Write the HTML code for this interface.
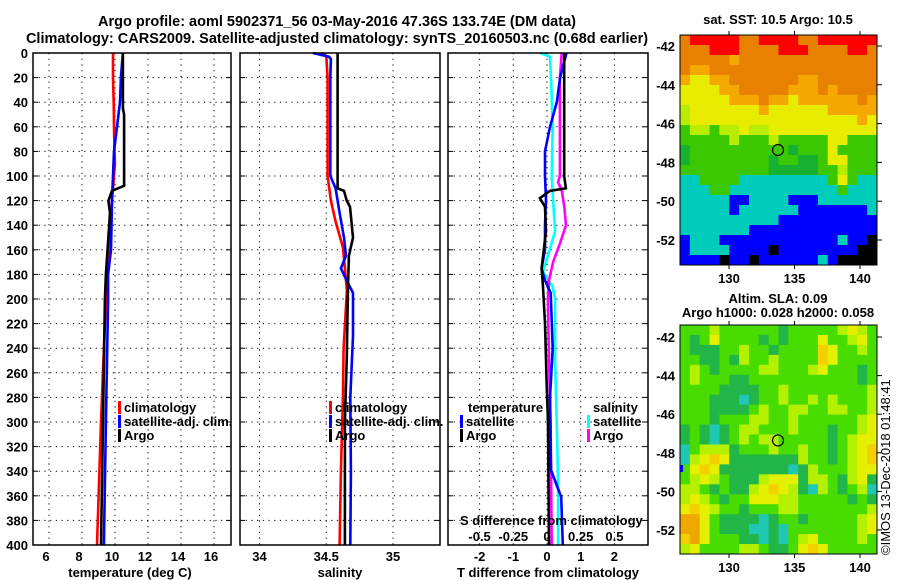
<!DOCTYPE html>
<html><head><meta charset="utf-8">
<style>
body{margin:0;background:#fff;}
svg{display:block;font-family:"Liberation Sans",sans-serif;font-weight:bold;}
</style></head>
<body>
<svg id="chart" width="900" height="580" viewBox="0 0 900 580" xmlns="http://www.w3.org/2000/svg">
<rect width="900" height="580" fill="#fff"/>
<text x="337" y="26" font-size="14.5" text-anchor="middle">Argo profile: aoml 5902371_56 03-May-2016 47.36S 133.74E (DM data)</text>
<text x="337" y="43" font-size="14.5" text-anchor="middle">Climatology: CARS2009. Satellite-adjusted climatology: synTS_20160503.nc (0.68d earlier)</text>
<g id="g"></g>
</svg>
<script>
// ---- data ----
const tDepth   = [0, 20, 40, 60, 80, 90, 110, 120, 150, 180, 200, 300, 400];
const tClim    = [9.88, 9.88, 9.92, 9.94, 9.97, 10.0, 9.88, 9.82, 9.70, 9.52, 9.45, 9.15, 8.91];
const tSatDepth= [0, 20, 40, 60, 80, 100, 120, 160, 180, 200, 300, 400];
const tSat     = [10.48, 10.36, 10.30, 10.12, 9.94, 9.88, 9.82, 9.76, 9.58, 9.58, 9.45, 9.33];
const tArgoDepth=[0, 45, 50, 108, 112, 120, 130, 180, 200, 300, 400];
const tArgo    = [10.48, 10.48, 10.55, 10.55, 9.82, 9.60, 9.70, 9.45, 9.39, 9.27, 9.15];

const sClimDepth=[0, 3, 20, 100, 120, 137, 158, 175, 193, 240, 280, 340, 400];
const sClim    = [34.47, 34.50, 34.51, 34.51, 34.535, 34.57, 34.625, 34.64, 34.655, 34.63, 34.625, 34.61, 34.60];
const sSatDepth= [0, 3, 5, 20, 100, 110, 130, 150, 165, 175, 185, 195, 230, 280, 340, 400];
const sSat     = [34.40, 34.52, 34.535, 34.53, 34.53, 34.57, 34.60, 34.633, 34.648, 34.61, 34.653, 34.70, 34.70, 34.68, 34.685, 34.68];
const sArgoDepth=[0, 110, 112, 120, 125, 150, 165, 190, 250, 300, 400];
const sArgo    = [34.585, 34.585, 34.633, 34.653, 34.678, 34.70, 34.67, 34.663, 34.653, 34.64, 34.64];

const dTSatDepth=[0, 20, 40, 60, 80, 100, 120, 140, 160, 175, 185, 195, 240, 280, 339, 361, 400];
const dTSat    = [0.58, 0.39, 0.29, 0.09, -0.06, -0.06, -0.03, -0.06, -0.06, -0.16, -0.06, 0.11, 0.17, 0.09, 0.12, 0.42, 0.47];
const dTArgoDepth=[0, 100, 110, 112, 118, 125, 145, 175, 190, 220, 270, 300, 400];
const dTArgo   = [0.51, 0.51, 0.56, 0.09, -0.21, -0.06, -0.03, -0.16, -0.12, -0.06, -0.01, 0.03, 0.06];
const dSSatDepth=[0, 3, 20, 60, 100, 120, 145, 165, 178, 190, 200, 250, 300, 350, 400];
const dSSat    = [-0.05, 0.022, 0.03, 0.042, 0.035, 0.045, 0.06, 0.007, -0.03, 0.042, 0.06, 0.06, 0.072, 0.082, 0.082];
const dSArgoDepth=[0, 20, 100, 105, 112, 125, 140, 155, 170, 185, 200, 250, 300, 400];
const dSArgo   = [0.109, 0.096, 0.096, 0.082, 0.11, 0.128, 0.141, 0.096, 0.045, 0.015, 0.007, 0.015, 0.027, 0.035];

const depthTicks = [0,20,40,60,80,100,120,140,160,180,200,220,240,260,280,300,320,340,360,380,400];
const tTicks = [6,8,10,12,14,16];
const sTicks = [34,34.5,35];
const sTickLabels = ["34","34.5","35"];
const dTicks = [-2,-1,0,1,2];
const dSTicks = [-0.5,-0.25,0,0.25,0.5];
const dSTickLabels = ["-0.5","-0.25","0","0.25","0.5"];
const latTicks = [-42,-44,-46,-48,-50,-52];
const lonTicks = [130,135,140];

const sstGrid = [
"ORRRRROORRRROORRRRRR","OOORRROOOORRROOOORRO","OOOOOoOOOOOOOOOOOOOO","OooOOOOOOOOOOOOOOOOO",
"oYYooOOOOOOOooOOOOOO","YYYYooOOOOOoooOoOOOO","YYYYYoooOooYooooooOo","yYYYYYYYoYYYYYYooooo",
"yYYYYYYYYYYYYYYYYYoY","GyyGyyYyyYYYYYYYYYYY","GGGGGyGGGyGGGGGYYGGG","gGGGGGGGGGGgGGGYGGGG",
"gGGGGGGGGgGGggGYYGGG","GGGGGGGGGgggggGGyGGG","CCGGGGCCCCCCCCCGYGCC","CCCGGCCCCCCCCCCCGCCC",
"CCCCCBBCCCCBBBCCCCCC","CCCCCBCCCCCCBBBBBBBC","CCCCCCCCCCBBBBBBBBBB","CCCCCCCBBBBBBBBBBBBB",
"BCCCBBBBBBBBBBBBCBBK","BCCCCBBBBKBBBBBBBBKK","BBBBKBBKBBBBBBCBKKKK"];
const slaGrid = [
"GGGyGGGGGGgGGGGGyYyG","GgGYGGGGgGgGGGYGGyYG","GgggGGyGGgGGGGoYGGyG","GGggGgyGGyGGGGoYGGGG",
"GyGgGGGGyyGGGyYGGGgG","GyGGGggGGGGGGGGGGGgG","GGGGggggGGyGGGGGGGGy","GGGgggCgGGyGGyGyGGGy",
"GGGggggGyGGyyGGyyGGy","GGGgGGGyyGGyGGGGGGyY","gGgCgGyyGGGyGGGgGGyY","gGgCgGyGyyGGGGGgGyYY",
"CGyyygGGGyGGyGGgGyYo","CyYoYgggggggyGGgGyYo","GYoYgggggggCgyGGGyYY","GyYyGgggyYYYgyyGgyYg",
"yyGgGggyYoYygCyGgGyC","yYyGgGGYYYyyGGGGGgGg","YoYyGGgGGGyyGGGGGGGy","OOYGggggCgGGgGGGGGyY",
"OOYGgggCCgCGGGGGGGyY","oOYGGGggCgCGyYGGGGyG","yYGGGGyyGggGYoYGGGGG"];
const argoLon = 133.74, argoLat = -47.36;

// ---- helpers ----
const NS="http://www.w3.org/2000/svg";
const G=document.getElementById('g');
function mk(tag,attrs,parent){const e=document.createElementNS(NS,tag);for(const k in attrs)e.setAttribute(k,attrs[k]);(parent||G).appendChild(e);return e;}
const y0=53, yScale=1.23, yBot=545;
const yD=d=>y0+yScale*d;
const xT=v=>49+16.5*(v-6);
const xS=v=>259.5+133.5*(v-34);
const xD=v=>547+33.7*v;
const xSD=v=>547+134.8*v;
const panels=[{x0:33,x1:231,name:'temperature-panel'},{x0:240,x1:440,name:'salinity-panel'},{x0:448,x1:648,name:'difference-panel'}];

function dotted(x1,y1,x2,y2,name){const l=mk('line',{x1,y1,x2,y2,stroke:'#000','stroke-width':1,'stroke-dasharray':'1.2,4.5'});

}
function txt(s,x,y,size,anchor,name){const t=mk('text',{x,y,'font-size':size,'text-anchor':anchor||'middle'});t.textContent=s;

return t;}
function line(depths,vals,fx,color,name){
 const pts=depths.map((d,i)=>fx(vals[i]).toFixed(1)+','+yD(d).toFixed(1)).join(' ');
 const p=mk('polyline',{points:pts,fill:'none',stroke:color,'stroke-width':2.6,'stroke-linejoin':'miter'});
 
 }

// grids
panels.forEach(p=>{
 depthTicks.forEach(d=>{if(d>0&&d<400)dotted(p.x0,yD(d),p.x1,yD(d),'h-gridline');
  mk('line',{x1:p.x0,y1:yD(d),x2:p.x0+5,y2:yD(d),stroke:'#000'});mk('line',{x1:p.x1,y1:yD(d),x2:p.x1-5,y2:yD(d),stroke:'#000'});});
});
tTicks.forEach(v=>{dotted(xT(v),y0,xT(v),yBot,'v-gridline');txt(String(v),xT(v)-3,561,13,'middle','x-tick-label');});
sTicks.forEach((v,i)=>{dotted(xS(v),y0,xS(v),yBot,'v-gridline');txt(sTickLabels[i],xS(v),561,13,'middle','x-tick-label');});
dTicks.forEach(v=>{dotted(xD(v),y0,xD(v),yBot,'v-gridline');txt(String(v),xD(v),561,13,'middle','x-tick-label');});
dSTicks.forEach((v,i)=>txt(dSTickLabels[i],xSD(v),541,13,'middle','s-diff-tick-label'));
depthTicks.forEach(d=>txt(String(d),28,yD(d)+5,13,'end','y-tick-label'));

// series
line(tDepth,tClim,xT,'#f00','temp-climatology-line');
line(tSatDepth,tSat,xT,'#00f','temp-satellite-line');
line(tArgoDepth,tArgo,xT,'#000','temp-argo-line');
line(sClimDepth,sClim,xS,'#f00','sal-climatology-line');
line(sSatDepth,sSat,xS,'#00f','sal-satellite-line');
line(sArgoDepth,sArgo,xS,'#000','sal-argo-line');
line(dSSatDepth,dSSat,xSD,'#0ff','sdiff-satellite-line');
line(dSArgoDepth,dSArgo,xSD,'#f0f','sdiff-argo-line');
line(dTSatDepth,dTSat,xD,'#00f','tdiff-satellite-line');
line(dTArgoDepth,dTArgo,xD,'#000','tdiff-argo-line');

panels.forEach(p=>{const r=mk('rect',{x:p.x0,y:y0,width:p.x1-p.x0,height:yBot-y0,fill:'none',stroke:'#000','stroke-width':1.5});

});

// legends
function leg(x,y,color,label,name){mk('rect',{x:x,y:y-6,width:3,height:13,fill:color});txt(label,x+6,y+5,13,'start',name);}
[[118,'temp'],[329,'sal']].forEach(([x,n])=>{leg(x,407,'#f00','climatology',n+'-legend-climatology');leg(x,421,'#00f','satellite-adj. clim.',n+'-legend-satellite');leg(x,435,'#000','Argo',n+'-legend-argo');});
txt('temperature',468,412,13,'start','legend-temperature-heading');
leg(460,421,'#00f','satellite','legend-tdiff-satellite');leg(460,435,'#000','Argo','legend-tdiff-argo');
txt('salinity',593,412,13,'start','legend-salinity-heading');
leg(587,421,'#0ff','satellite','legend-sdiff-satellite');leg(587,435,'#f0f','Argo','legend-sdiff-argo');
txt('S difference from climatology',460,525,13,'start','s-diff-axis-title');
txt('temperature (deg C)',130,577,13,'middle','temp-axis-title');
txt('salinity',340,577,13,'middle','salinity-axis-title');
txt('T difference from climatology',548,577,13,'middle','t-diff-axis-title');

// maps
const colorsSST={R:'#ff0000',O:'#e88000',o:'#f4a800',Y:'#e8ec00',y:'#b8ec00',G:'#3cc800',g:'#18b030',C:'#00ccbb',B:'#0000ff',K:'#000000'};
const colorsSLA={G:'#48dc00',g:'#22b648',y:'#b4f000',Y:'#e4f000',o:'#f4d000',O:'#f0a800',C:'#20c8b4'};
function map(grid,cols,x0,x1,yTop,yBottom,latY,lonX,name,title1,title2,ty){
 const nR=grid.length,nC=grid[0].length,cw=(x1-x0)/nC,ch=(yBottom-yTop)/nR;
 const mg=mk('g',{});
 
 
 grid.forEach((row,r)=>{for(let c=0;c<nC;c++){mk('rect',{x:(x0+c*cw).toFixed(2),y:(yTop+r*ch).toFixed(2),width:(cw+0.5).toFixed(2),height:(ch+0.5).toFixed(2),fill:cols[row[c]]},mg);}});
 mk('rect',{x:x0,y:yTop,width:x1-x0,height:yBottom-yTop,fill:'none',stroke:'#000','stroke-width':1});
 latTicks.forEach(v=>{const y=latY(v);mk('line',{x1:x1,y1:y,x2:x1+5,y2:y,stroke:'#000'});txt(String(v),675,y+5,13,'end','map-lat-label');});
 lonTicks.forEach(v=>{const x=lonX(v);mk('line',{x1:x,y1:yBottom,x2:x,y2:yBottom+4,stroke:'#000'});mk('line',{x1:x,y1:yTop,x2:x,y2:yTop-4,stroke:'#000'});txt(String(v),x,yBottom+18,13,'middle','map-lon-label');});
 const c=mk('circle',{cx:lonX(argoLon),cy:latY(argoLat),r:5.5,fill:'none',stroke:'#000','stroke-width':1.2});
 
 
 txt(title1,778,ty,13,'middle','map-title');
 if(title2)txt(title2,778,ty+14,13,'middle','map-subtitle');
}
map(sstGrid,colorsSST,680,877,35,265,v=>46+19.4*(-42-v),v=>729+13.1*(v-130),'sst-map','sat. SST: 10.5 Argo: 10.5',null,24);
map(slaGrid,colorsSLA,680,877,325,554,v=>337+19.3*(-42-v),v=>729+13.1*(v-130),'sla-map','Altim. SLA: 0.09','Argo h1000: 0.028 h2000: 0.058',303);
mk('rect',{x:680,y:465,width:3,height:7,fill:'#00f'});
const cr=txt('©IMOS 13-Dec-2018 01:48:41',0,0,13,'start','imos-credit');
cr.setAttribute('transform','translate(890,555) rotate(-90)');
cr.setAttribute('font-weight','normal');
</script>
</body></html>
